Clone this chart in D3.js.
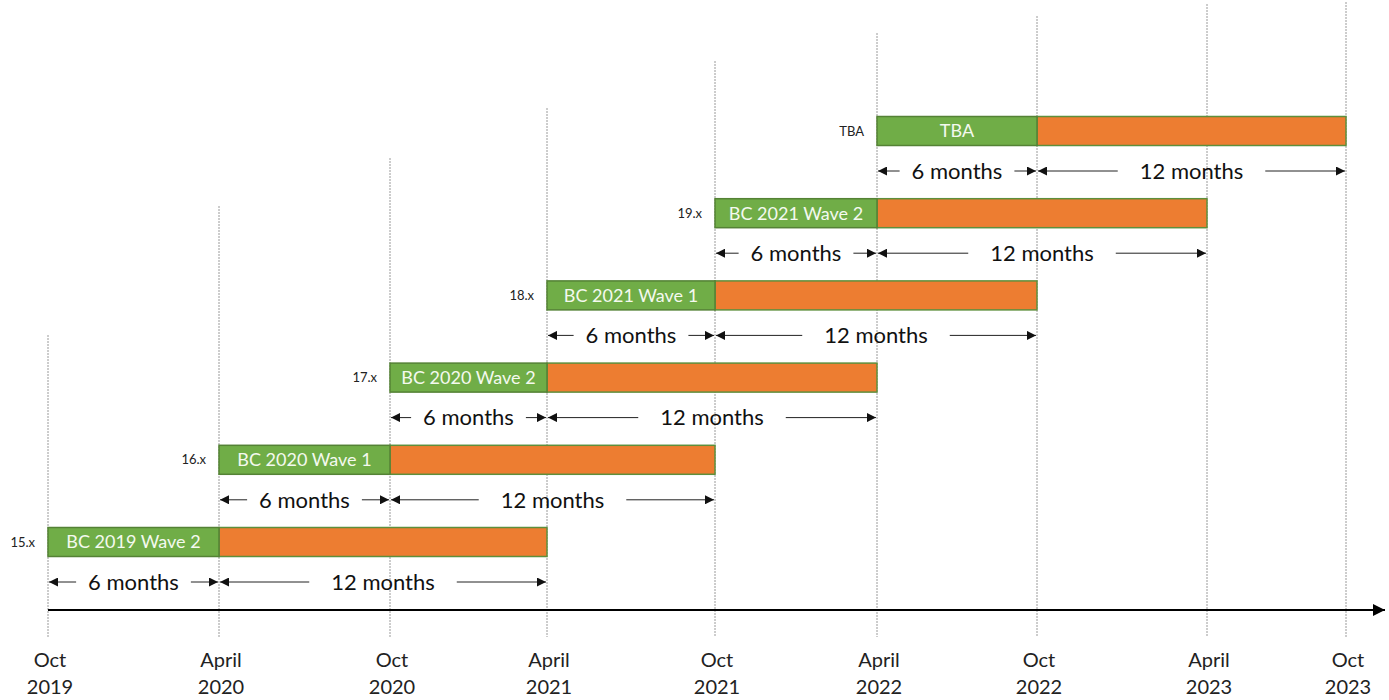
<!DOCTYPE html>
<html>
<head>
<meta charset="utf-8">
<script src="https://cdn.jsdelivr.net/npm/d3@7"></script>
<style>
  body { margin: 0; background: #fff; }
  svg  { display: block; font-family: Lato, "Open Sans", sans-serif; }
</style>
</head>
<body>
<svg id="chart" width="1389" height="700"></svg>
<script>
/* timeline of release waves: 6 month build phase + 12 month support phase */

// months since Oct 2019, one tick per half-year
const tickMonths = [0, 6, 12, 18, 24, 30, 36, 42, 48];
const tickLabels = [
  ["Oct", "2019"], ["April", "2020"], ["Oct", "2020"], ["April", "2021"],
  ["Oct", "2021"], ["April", "2022"], ["Oct", "2022"], ["April", "2023"],
  ["Oct", "2023"]
];

const versions   = ["15.x", "16.x", "17.x", "18.x", "19.x", "TBA"];
const waveNames  = ["BC 2019 Wave 2", "BC 2020 Wave 1", "BC 2020 Wave 2",
                    "BC 2021 Wave 1", "BC 2021 Wave 2", "TBA"];
const waveStart  = [0, 6, 12, 18, 24, 30];
const phaseLen   = [6, 12];
const phaseLabel = ["6 months", "12 months"];

const svg = d3.select("#chart");

/* -- Scales ------------------------------------------------------------- */
// the drawing is hand-made, so half-years are not quite evenly spaced
const x = d3.scaleLinear()
  .domain(tickMonths)
  .range([48, 219, 390, 547, 715, 877, 1037, 1207, 1346]);

const y = d3.scaleLinear().domain([0, 5]).range([542, 131]);

// staircase tops of the dotted guide lines
const gridTop = d3.scaleLinear()
  .domain(tickMonths)
  .range([335, 206, 158, 108, 61, 33, 16, 4, 2]);

const axisY   = 610;
const barH    = 29;
const arrowDy = 40;

/* -- Markers ------------------------------------------------------------ */
const defs = svg.append("defs");
defs.append("marker")
    .attr("id", "head")
    .attr("viewBox", "0 0 10 10")
    .attr("refX", 10).attr("refY", 5)
    .attr("markerUnits", "userSpaceOnUse")
    .attr("markerWidth", 10).attr("markerHeight", 9)
    .attr("orient", "auto-start-reverse")
  .append("path")
    .attr("d", "M0,0L10,5L0,10Z")
    .attr("fill", "#111");

defs.append("marker")
    .attr("id", "axisHead")
    .attr("viewBox", "0 0 10 10")
    .attr("refX", 10).attr("refY", 5)
    .attr("markerUnits", "userSpaceOnUse")
    .attr("markerWidth", 13).attr("markerHeight", 12)
    .attr("orient", "auto")
  .append("path")
    .attr("d", "M0,0L10,5L0,10Z")
    .attr("fill", "#000");

/* -- Guide lines -------------------------------------------------------- */
svg.append("g").selectAll("line")
  .data(tickMonths)
  .join("line")
    .attr("x1", d => x(d)).attr("x2", d => x(d))
    .attr("y1", d => gridTop(d)).attr("y2", 637)
    .attr("stroke", "#9a9a9a")
    .attr("stroke-width", 1)
    .attr("stroke-dasharray", "2,1");

/* -- Time axis ---------------------------------------------------------- */
svg.append("line")
    .attr("x1", x(0)).attr("x2", 1385)
    .attr("y1", axisY).attr("y2", axisY)
    .attr("stroke", "#000")
    .attr("stroke-width", 2)
    .attr("marker-end", "url(#axisHead)");

const tickText = svg.append("g").selectAll("text")
  .data(tickMonths)
  .join("text")
    .attr("x", d => x(d) + 2)
    .attr("text-anchor", "middle")
    .attr("font-size", 20)
    .attr("fill", "#222");
tickText.append("tspan")
    .attr("x", d => x(d) + 2).attr("y", 667)
    .text((d, i) => tickLabels[i][0]);
tickText.append("tspan")
    .attr("x", d => x(d) + 2).attr("y", 694)
    .text((d, i) => tickLabels[i][1]);

/* -- Wave bars ---------------------------------------------------------- */
const rows = waveNames.map((name, i) => ({
  name, version: versions[i], start: waveStart[i], row: i
}));

const bar = svg.append("g").selectAll("g")
  .data(rows)
  .join("g");

// orange support phase
bar.append("rect")
    .attr("x", d => x(d.start + phaseLen[0]))
    .attr("y", d => y(d.row) - barH / 2)
    .attr("width", d => x(d.start + phaseLen[0] + phaseLen[1]) - x(d.start + phaseLen[0]))
    .attr("height", barH)
    .attr("fill", "#ed7d31")
    .attr("stroke", "#5e8f3c")
    .attr("stroke-width", 1.5);

// green build phase
bar.append("rect")
    .attr("x", d => x(d.start))
    .attr("y", d => y(d.row) - barH / 2)
    .attr("width", d => x(d.start + phaseLen[0]) - x(d.start))
    .attr("height", barH)
    .attr("fill", "#70ad47")
    .attr("stroke", "#548235")
    .attr("stroke-width", 1.5);

bar.append("text")
    .attr("x", d => (x(d.start) + x(d.start + phaseLen[0])) / 2)
    .attr("y", d => y(d.row))
    .attr("dy", "0.35em")
    .attr("text-anchor", "middle")
    .attr("font-size", 18)
    .attr("fill", "#f4f9ef")
    .text(d => d.name);

bar.append("text")
    .attr("x", d => x(d.start) - 13)
    .attr("y", d => y(d.row))
    .attr("dy", "0.35em")
    .attr("text-anchor", "end")
    .attr("font-size", 13)
    .attr("fill", "#222")
    .text(d => d.version);

/* -- Duration arrows ---------------------------------------------------- */
const spans = [];
rows.forEach(r => {
  let from = r.start;
  phaseLen.forEach((len, p) => {
    spans.push({ row: r.row, a: from, b: from + len, label: phaseLabel[p], gap: p ? 22 : 12 });
    from += len;
  });
});

const span = svg.append("g").selectAll("g")
  .data(spans)
  .join("g");

span.append("text")
    .attr("x", d => (x(d.a) + x(d.b)) / 2)
    .attr("y", d => y(d.row) + arrowDy)
    .attr("dy", "0.35em")
    .attr("text-anchor", "middle")
    .attr("font-size", 22)
    .attr("fill", "#111")
    .text(d => d.label)
    .each(function (d) { d.tw = this.getComputedTextLength(); });

span.append("line")
    .attr("x1", d => x(d.a) + 1)
    .attr("x2", d => (x(d.a) + x(d.b)) / 2 - d.tw / 2 - d.gap)
    .attr("y1", d => y(d.row) + arrowDy).attr("y2", d => y(d.row) + arrowDy)
    .attr("stroke", "#222").attr("stroke-width", 1)
    .attr("marker-start", "url(#head)");

span.append("line")
    .attr("x1", d => (x(d.a) + x(d.b)) / 2 + d.tw / 2 + d.gap)
    .attr("x2", d => x(d.b) - 1)
    .attr("y1", d => y(d.row) + arrowDy).attr("y2", d => y(d.row) + arrowDy)
    .attr("stroke", "#222").attr("stroke-width", 1)
    .attr("marker-end", "url(#head)");
</script>
</body>
</html>
